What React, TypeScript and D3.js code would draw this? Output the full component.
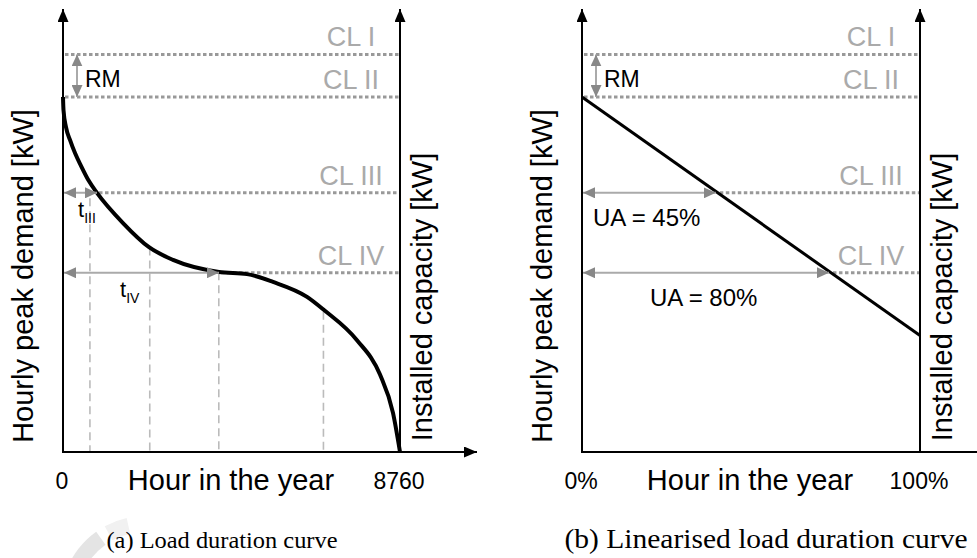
import React, { useEffect, useRef } from 'react';
import * as d3 from 'd3';

// load duration curve of panel (a) (demand in % of peak)
const hours = [0, 13, 78, 182, 312, 468, 658, 884, 1560, 2236, 2860, 4055, 4783, 5459, 6343, 6785, 7642, 8240, 8578, 8760];
const demand = [100, 96.3, 91.5, 87.9, 84.2, 80.6, 76.6, 73.0, 64.5, 57.7, 54.1, 50.7, 50.1, 47.9, 43.7, 40.0, 31.5, 21.8, 11.0, 0];

// capacity levels, same in both panels
const levelNames = ['CL I', 'CL II', 'CL III', 'CL IV'];
const levelValues = [112, 100, 73, 50.5];
// hour where the dotted level line starts in panel (a)
const levelStartHours = [0, 0, 884, 4055];

// dashed guides in panel (a)
const guideHours = [700, 2255, 4050, 6770];
const guideTops = [71.5, 57.6, 50.6, 39.5];

// duration arrows in panel (a)
const durationSubs = ['III', 'IV'];
const durationLevels = [73, 50.5];
const durationEnds = [884, 4055];

// linearised curve of panel (b)
const shares = [0, 100];
const linearDemand = [100, 32.8];
const uaLabels = ['UA = 45%', 'UA = 80%'];
const uaLevels = [73, 50.5];

const xTicksA = ['0', '8760'];
const xTicksB = ['0%', '100%'];
const captions = ['(a) Load duration curve', '(b) Linearised load duration curve'];

const W = 977;
const H = 558;
const SANS = "'Liberation Sans', Arial, sans-serif";

const App = () => {
  const svgRef = useRef<SVGSVGElement>(null);

  useEffect(() => {
    const svg = d3.select(svgRef.current);
    svg.selectAll('*').remove();

    const baseY = 452;
    const topY = 9;
    const y = d3.scaleLinear().domain([0, 100]).range([baseY, 97]);

    const defs = svg.append('defs');
    const marker = (id: string, color: string, len: number, wid: number) => {
      defs.append('marker')
        .attr('id', id)
        .attr('viewBox', `0 0 ${len} ${wid}`)
        .attr('refX', len)
        .attr('refY', wid / 2)
        .attr('markerWidth', len)
        .attr('markerHeight', wid)
        .attr('markerUnits', 'userSpaceOnUse')
        .attr('orient', 'auto-start-reverse')
        .append('path')
        .attr('d', `M0,0L${len},${wid / 2}L0,${wid}Z`)
        .attr('fill', color);
    };
    marker('blackHead', '#000', 13, 11);
    marker('greyHead', '#888', 12, 11);

    // watermark arc at the bottom left
    const arc = d3.arc<any>().innerRadius(68).outerRadius(84);
    svg.append('path')
      .attr('transform', 'translate(145,600)')
      .attr('d', arc({ startAngle: -1.8, endAngle: -0.62 }))
      .attr('fill', '#e4e4e4');
    svg.append('path')
      .attr('transform', 'translate(145,600)')
      .attr('d', arc({ startAngle: -0.5, endAngle: -0.22 }))
      .attr('fill', '#f1f1f1');

    const greyArrow = (g: any, x1: number, y1: number, x2: number, y2: number) => {
      g.append('line')
        .attr('x1', x1).attr('y1', y1).attr('x2', x2).attr('y2', y2)
        .attr('stroke', '#aaa')
        .attr('stroke-width', 2)
        .attr('marker-start', 'url(#greyHead)')
        .attr('marker-end', 'url(#greyHead)');
    };

    const drawFrame = (g: any, x: any, xTicks: string[], axisEnd: number) => {
      const [x0, x1] = x.range();

      g.append('line')
        .attr('x1', x0).attr('y1', baseY).attr('x2', axisEnd).attr('y2', baseY)
        .attr('stroke', '#000').attr('stroke-width', 2)
        .attr('marker-end', 'url(#blackHead)');
      [x0, x1].forEach(xx => {
        g.append('line')
          .attr('x1', xx).attr('y1', baseY + 1).attr('x2', xx).attr('y2', topY)
          .attr('stroke', '#000').attr('stroke-width', 2)
          .attr('marker-end', 'url(#blackHead)');
      });

      // capacity labels
      levelValues.forEach((v, i) => {
        g.append('text')
          .attr('x', x1 - 49)
          .attr('y', y(v) - 8)
          .attr('text-anchor', 'middle')
          .style('font-family', SANS)
          .style('font-size', '27px')
          .style('fill', '#aaa')
          .text(levelNames[i]);
      });

      // reserve margin
      greyArrow(g, x0 + 14, y(levelValues[0]), x0 + 14, y(levelValues[1]));
      g.append('text')
        .attr('x', x0 + 22)
        .attr('y', y(levelValues[1]) - 10)
        .style('font-family', SANS)
        .style('font-size', '23px')
        .style('fill', '#000')
        .text('RM');

      // axis titles
      g.append('text')
        .attr('transform', `translate(${x0 - 30},276) rotate(-90)`)
        .attr('text-anchor', 'middle')
        .style('font-family', SANS)
        .style('font-size', '29px')
        .text('Hourly peak demand [kW]');
      g.append('text')
        .attr('transform', `translate(${x1 + 32},297) rotate(-90)`)
        .attr('text-anchor', 'middle')
        .style('font-family', SANS)
        .style('font-size', '29px')
        .text('Installed capacity [kW]');
      g.append('text')
        .attr('x', x0 + 168)
        .attr('y', 490)
        .attr('text-anchor', 'middle')
        .style('font-family', SANS)
        .style('font-size', '29px')
        .text('Hour in the year');
      xTicks.forEach((t, i) => {
        g.append('text')
          .attr('x', (i === 0 ? x0 : x1) - 1)
          .attr('y', 489)
          .attr('text-anchor', 'middle')
          .style('font-family', SANS)
          .style('font-size', '23px')
          .text(t);
      });
    };

    const dotted = (g: any, x1: number, x2: number, yy: number) => {
      g.append('line')
        .attr('x1', x1).attr('y1', yy).attr('x2', x2).attr('y2', yy)
        .attr('stroke', '#999')
        .attr('stroke-width', 3)
        .attr('stroke-dasharray', '3.5,2.5');
    };

    // ---------- panel (a)
    const gA = svg.append('g');
    const xA = d3.scaleLinear().domain([0, 8760]).range([63, 400]);

    levelValues.forEach((v, i) => dotted(gA, xA(levelStartHours[i]) + 2, xA.range()[1], y(v)));

    guideHours.forEach((h, i) => {
      gA.append('line')
        .attr('x1', xA(h)).attr('x2', xA(h))
        .attr('y1', y(guideTops[i])).attr('y2', baseY)
        .attr('stroke', '#bbb')
        .attr('stroke-width', 1.6)
        .attr('stroke-dasharray', '8,5');
    });

    const line = d3.line<number>()
      .x((d, i) => xA(hours[i]))
      .y(d => y(d))
      .curve(d3.curveMonotoneX);
    gA.append('path')
      .attr('d', line(demand))
      .attr('fill', 'none')
      .attr('stroke', '#000')
      .attr('stroke-width', 4);

    durationLevels.forEach((v, i) => {
      greyArrow(gA, xA(0) + 1, y(v), xA(durationEnds[i]), y(v));
      const tx = i === 0 ? xA(0) + 15 : xA(0) + 57;
      const t = gA.append('text')
        .attr('x', tx)
        .attr('y', y(v) + 24)
        .style('font-family', SANS)
        .style('font-size', '22px');
      t.append('tspan').text('t');
      t.append('tspan')
        .attr('dy', 6)
        .style('font-size', '14px')
        .text(durationSubs[i]);
    });

    drawFrame(gA, xA, xTicksA, 477);

    // ---------- panel (b)
    const gB = svg.append('g');
    const xB = d3.scaleLinear().domain([0, 100]).range([582, 920]);
    const share = d3.scaleLinear().domain(linearDemand).range(shares);

    levelValues.forEach((v, i) => {
      const start = i < 2 ? xB(0) + 2 : xB(share(v)) + 2;
      dotted(gB, start, xB.range()[1], y(v));
    });

    gB.append('path')
      .attr('d', d3.line<number>().x((d, i) => xB(shares[i])).y(d => y(d))(linearDemand))
      .attr('fill', 'none')
      .attr('stroke', '#000')
      .attr('stroke-width', 3);

    uaLevels.forEach((v, i) => {
      greyArrow(gB, xB(0) + 1, y(v), xB(share(v)) - 2, y(v));
      gB.append('text')
        .attr('x', i === 0 ? xB(0) + 11 : xB(0) + 68)
        .attr('y', y(v) + 33)
        .style('font-family', SANS)
        .style('font-size', '24px')
        .text(uaLabels[i]);
    });

    drawFrame(gB, xB, xTicksB, 1000);

    // captions
    const capStyle = [
      { cx: 222, size: 24, len: 231 },
      { cx: 766, size: 27, len: 403 },
    ];
    capStyle.forEach((c, i) => {
      svg.append('text')
        .attr('x', c.cx)
        .attr('y', 548)
        .attr('text-anchor', 'middle')
        .attr('textLength', c.len)
        .attr('lengthAdjust', 'spacingAndGlyphs')
        .style('font-family', "'Liberation Serif', 'Times New Roman', serif")
        .style('font-size', `${c.size}px`)
        .text(captions[i]);
    });
  }, []);

  return (
    <svg
      ref={svgRef}
      width={W}
      height={H}
      style={{ position: 'absolute', left: 0, top: 0, background: '#fff' }}
    />
  );
};

export default App;
